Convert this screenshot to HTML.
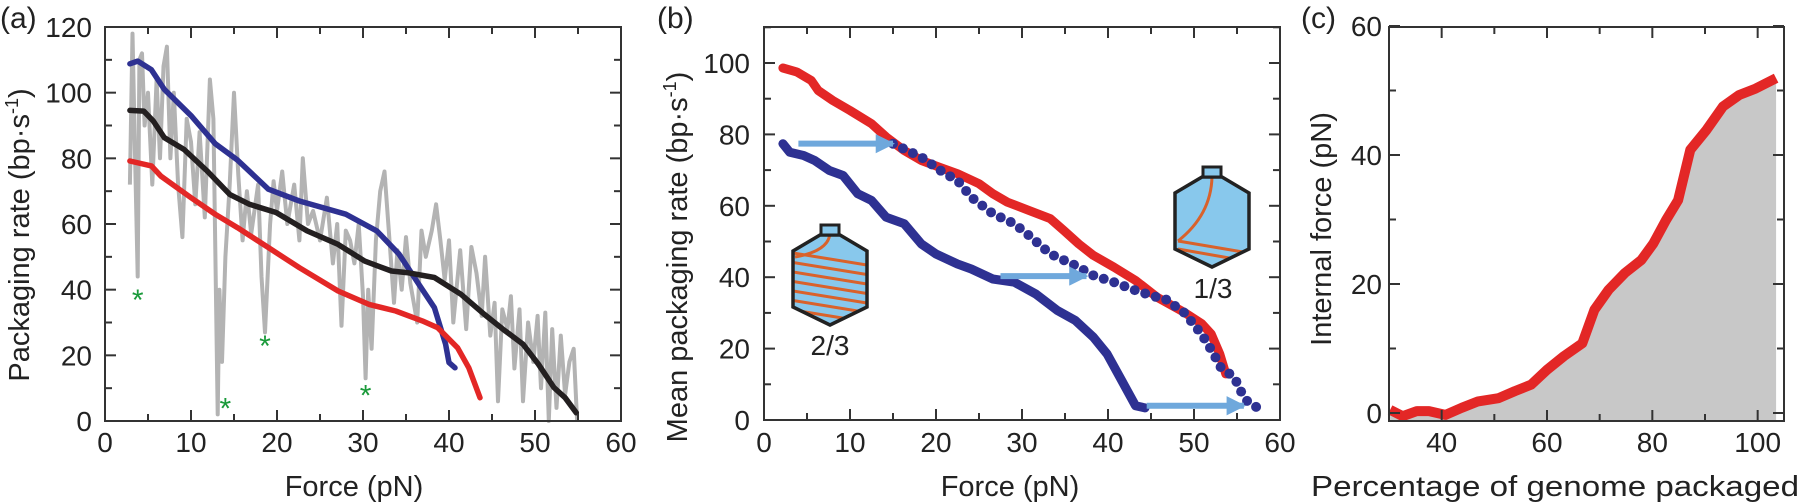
<!DOCTYPE html>
<html><head><meta charset="utf-8"><style>
html,body{margin:0;padding:0;background:#fff;}
svg{display:block;font-family:"Liberation Sans",Arial,sans-serif;}
</style></head><body>
<svg id="fig" width="1800" height="502" viewBox="0 0 1800 502">
<defs>
<marker id="ah" viewBox="0 0 10 10" refX="9" refY="5" markerWidth="3.2" markerHeight="3.2" orient="auto" markerUnits="strokeWidth"><path d="M0,0 L10,5 L0,10 z" fill="#6fa8dc"/></marker>
</defs>
<g id="pa"></g>
<g id="pb"></g>
<g id="pc"></g>
<text x="0" y="28" font-size="30" fill="#222">(a)</text>
<text x="657" y="28" font-size="30" fill="#222">(b)</text>
<text x="1301" y="28" font-size="30" fill="#222">(c)</text>
<text transform="translate(29,235) rotate(-90)" text-anchor="middle" font-size="29" fill="#222">Packaging rate (bp·s<tspan font-size="18" dy="-11">-1</tspan><tspan dy="11">)</tspan></text>
<text x="354" y="496" text-anchor="middle" font-size="29" fill="#222">Force (pN)</text>
<text transform="translate(687,257) rotate(-90)" text-anchor="middle" font-size="29" fill="#222">Mean packaging rate (bp·s<tspan font-size="18" dy="-11">-1</tspan><tspan dy="11">)</tspan></text>
<text x="1010" y="496" text-anchor="middle" font-size="29" fill="#222">Force (pN)</text>
<text transform="translate(1331,229) rotate(-90)" text-anchor="middle" font-size="29" fill="#222">Internal force (pN)</text>
<text x="1555" y="496" text-anchor="middle" font-size="29" textLength="488" lengthAdjust="spacingAndGlyphs" fill="#222">Percentage of genome packaged</text>
</svg>
<script>
// ---------- data ----------
const aGrayF=[2.9,3.2,3.5,3.8,4.0,4.3,4.6,5.0,5.5,6.0,6.4,6.8,7.2,7.6,8.0,8.5,9.0,9.5,10.0,10.5,11.0,11.6,12.2,12.6,13.1,13.3,13.6,14.0,14.5,15.0,15.5,16.0,16.5,17.0,17.8,18.2,18.6,19.2,19.6,20.0,20.6,21.2,22.0,22.6,23.0,23.6,24.2,25.0,25.8,26.5,27.0,27.5,28.0,28.5,29.0,29.5,30.0,30.3,30.6,31.0,31.5,32.0,32.5,33.0,33.6,34.0,34.5,35.0,35.5,36.3,36.8,37.3,38.0,38.5,39.0,39.5,40.0,40.5,41.3,42.0,42.6,43.2,43.8,44.2,44.8,45.3,45.7,46.2,46.8,47.2,47.6,48.2,48.6,49.2,49.8,50.3,50.7,51.2,51.6,52.0,52.5,53.0,53.5,54.0,54.5,54.9];
const aGrayV=[72,118,80,44,110,112,90,100,72,104,80,108,114,80,100,72,56,92,85,66,88,62,104,92,2,40,18,50,72,100,75,55,70,57,72,44,27,60,73,64,76,60,72,55,80,60,64,55,68,48,60,29,58,55,48,60,38,13,40,22,55,70,76,58,36,52,40,56,42,30,58,50,58,66,55,43,55,30,52,28,53,45,32,50,26,36,6,34,28,38,16,34,6,30,18,32,10,33,0,28,4,26,8,18,22,0];
const aBlueF=[2.9,3.8,5.4,6.9,10,12.8,15.4,19,22.6,28,31.6,34.2,36.5,38.3,39.6,40,40.7];
const aBlueV=[108.8,109.6,107,101,93,84.5,79.5,70.6,67,63,57.9,50.8,41.6,34.5,23.4,17.8,16.2];
const aBlackF=[2.9,4.5,5.6,6.9,9.2,11.9,14.5,16.8,19.9,23.5,27.1,30.2,33.3,35.1,38.3,41.4,44.1,46.3,48.6,50.4,52.2,53.5,54.8];
const aBlackV=[94.6,94.4,91.4,86.3,82.7,76.1,69,66,63.5,57.9,53.8,48.7,45.7,45.2,43.7,38.6,32.5,27.9,23.4,17.3,10.2,7.1,2.5];
const aRedF=[2.9,5.4,6.5,10,12.8,15.4,19,22.6,27.1,30.7,33.8,36.9,38.7,41,42.3,43.6];
const aRedV=[79.2,77.7,74.6,68,63,58.9,52.8,46.7,39.6,35.5,33.5,30.5,28.4,22.3,16.2,7.1];
const aStarF=[3.8,14,18.6,30.3];
const aStarV=[38,5,24,9];
const aXTicks=[0,10,20,30,40,50,60];
const aYTicks=[0,20,40,60,80,100,120];

const bRedF=[2.2,3.8,5.5,6.3,8,10,12.5,14.2,16.3,18.3,20.4,22.5,25,26.6,28.3,30.8,33.3,34.9,36.6,38.3,40.7,43.2,45.7,48.9,50.9,52,53,53.7];
const bRedV=[98.6,97.5,95.1,92.3,89.5,86.7,83,79.3,75.5,72.7,70.8,69,66.2,63.4,61,58.7,56.4,53,49.3,46.1,42.8,39.1,34.4,30.1,27,24.1,18.5,12.9];
const bBlueF=[2.2,3,4.6,5.9,7.6,9.2,10.9,12.5,14.2,16.3,18.3,20,22.5,24.1,26.6,29.1,31.6,34.1,36.2,38.3,39.9,41.6,43.2,44.3];
const bBlueV=[77.4,75,74.1,72.7,69.9,68.5,63.4,61.5,56.8,55,49.3,46.5,43.7,42.3,39.5,38.6,35.3,30.7,27.9,23.2,18.5,11,4,3.4];
const bDotF=[15,18.3,20.8,22.5,24.1,26.6,29.1,30.8,33.3,36.2,38.3,40.7,43.2,45.7,46.6,48.9,50.9,52.3,53,54.7,55.6,56.3,57.5];
const bDotV=[77.4,73.6,69.4,67.1,62.4,57.8,55,51.7,46.5,43.3,40.5,38.6,36.3,34.4,34,30,24,18.5,15,11.9,7.3,4.9,3.3];
const bArrowF0=[4,27.5,44.5];
const bArrowF1=[15,37.5,55.8];
const bArrowV=[77.4,40.3,4];
const bXTicks=[0,10,20,30,40,50,60];
const bYTicks=[0,20,40,60,80,100];

const cPctX=[30.2,32.6,35.3,37.6,40.7,43.8,46.9,50.8,53.9,57,60,63.2,66.7,69,71.7,74.8,77.9,80.2,82.6,84.9,87.2,90.3,93.4,96.5,99.6,103.5];
const cForceV=[0.5,-0.5,0.3,0.3,-0.3,0.8,1.8,2.3,3.4,4.4,6.7,8.8,10.8,16,19.1,21.7,23.7,26.3,29.9,33,40.8,43.9,47.5,49.3,50.3,51.9];
const cXTicks=[40,60,80,100];
const cYTicks=[0,20,40,60];

// ---------- helpers ----------
const NS="http://www.w3.org/2000/svg";
function mk(parent,tag,attrs){const e=document.createElementNS(NS,tag);for(const k in attrs)e.setAttribute(k,attrs[k]);parent.appendChild(e);return e;}
function lin(d0,d1,r0,r1){return v=>r0+(v-d0)*(r1-r0)/(d1-d0);}
function pathD(xs,ys,sx,sy){return xs.map((x,i)=>(i?'L':'M')+sx(x).toFixed(1)+','+sy(ys[i]).toFixed(1)).join(' ');}

function axes(g,L,R,T,B,sx,sy,xMinor,xMajor,yMinor,yMajor,xDom,yDom,xLabels,yLabels,yLabelX,pfx){
  const frame=mk(g,'rect',{x:L,y:T,width:R-L,height:B-T,fill:'none',stroke:'#333','stroke-width':2});
  
  
  for(let v=Math.ceil(xDom[0]/xMinor)*xMinor;v<=xDom[1]+1e-9;v+=xMinor){
    const major=Math.abs(v/xMajor-Math.round(v/xMajor))<1e-6, len=major?11:7, x=sx(v);
    const t1=mk(g,'line',{x1:x,x2:x,y1:B,y2:B-len,stroke:'#333','stroke-width':2});
    
    
    const t2=mk(g,'line',{x1:x,x2:x,y1:T,y2:T+len,stroke:'#333','stroke-width':2});
    
    
  }
  for(let v=Math.ceil(yDom[0]/yMinor)*yMinor;v<=yDom[1]+1e-9;v+=yMinor){
    const major=Math.abs(v/yMajor-Math.round(v/yMajor))<1e-6, len=major?11:7, y=sy(v);
    const t1=mk(g,'line',{x1:L,x2:L+len,y1:y,y2:y,stroke:'#333','stroke-width':2});
    
    
    const t2=mk(g,'line',{x1:R,x2:R-len,y1:y,y2:y,stroke:'#333','stroke-width':2});
    
    
  }
  xLabels.forEach(v=>{const t=mk(g,'text',{x:sx(v),y:452,'text-anchor':'middle','font-size':28,fill:'#222'});t.textContent=v;
    
    });
  yLabels.forEach(v=>{const t=mk(g,'text',{x:yLabelX,y:sy(v)+10,'text-anchor':'end','font-size':28,fill:'#222'});t.textContent=v;
    
    });
}

// ---------- panel a ----------
(function(){
  const g=document.getElementById('pa');
  const L=105,R=621,T=27,B=421;
  const sx=lin(0,60,L,R), sy=lin(0,120,B,T);
  const gv=aGrayV.map(v=>Math.max(0,Math.min(120,v)));
  const gr=mk(g,'path',{d:pathD(aGrayF,gv,sx,sy),fill:'none',stroke:'#b3b3b3','stroke-width':4,'stroke-linejoin':'round'});
  
  
  const bl=mk(g,'path',{d:pathD(aBlueF,aBlueV,sx,sy),fill:'none',stroke:'#2e3192','stroke-width':5.5,'stroke-linecap':'round','stroke-linejoin':'round'});
  
  
  const bk=mk(g,'path',{d:pathD(aBlackF,aBlackV,sx,sy),fill:'none',stroke:'#231f20','stroke-width':5.5,'stroke-linecap':'round','stroke-linejoin':'round'});
  
  
  const rd=mk(g,'path',{d:pathD(aRedF,aRedV,sx,sy),fill:'none',stroke:'#e32726','stroke-width':5.5,'stroke-linecap':'round','stroke-linejoin':'round'});
  
  
  aStarF.forEach((f,i)=>{const t=mk(g,'text',{x:sx(f),y:sy(aStarV[i])+14,'text-anchor':'middle','font-size':30,fill:'#1a9a3a'});t.textContent='*';
    
    });
  axes(g,L,R,T,B,sx,sy,5,10,10,20,[0,60],[0,120],aXTicks,aYTicks,92,'panel-a');
})();

// ---------- panel b ----------
(function(){
  const g=document.getElementById('pb');
  const L=764,R=1280,T=27,B=420;
  const sx=lin(0,60,L,R), sy=lin(0,100,B,B-357);
  // capsid icons
  function capsid(x,y,s,stripes,name){
    const c=mk(g,'g',{transform:`translate(${x},${y}) scale(${s})`});
    
    
    const cl=mk(c,'clipPath',{id:name+'-clip'});
    const pts='27,12 47,12 74,28 74,84 37,102 0,84 0,28';
    mk(cl,'polygon',{points:pts});
    mk(c,'polygon',{points:pts,fill:'#88c8ec',stroke:'none'});
    const inner=mk(c,'g',{'clip-path':`url(#${name}-clip)`});
    stripes.forEach(d=>mk(inner,'path',{d:d,fill:'none',stroke:'#d9622b','stroke-width':3}));
    mk(c,'polygon',{points:pts,fill:'none',stroke:'#222','stroke-width':3.5,'stroke-linejoin':'miter'});
    mk(c,'rect',{x:28,y:2,width:18,height:10,fill:'#88c8ec',stroke:'#222','stroke-width':3});
  }
  const s23=['M37,0 L37,10 Q36,28 2,34'];
  for(let i=0;i<7;i++){const y0=30+i*9.5;s23.push(`M0,${y0} L74,${y0+12}`);}
  capsid(793,223,1,s23,'capsid-icon-two-thirds');
  capsid(1175,165,1,['M37,0 L37,12 Q36,50 3,76','M3,76 L74,88','M3,84 L60,94'],'capsid-icon-one-third');
  const t1=mk(g,'text',{x:830,y:355,'text-anchor':'middle','font-size':28,fill:'#222'});t1.textContent='2/3';
  
  
  const t2=mk(g,'text',{x:1213,y:298,'text-anchor':'middle','font-size':28,fill:'#222'});t2.textContent='1/3';
  
  
  const rd=mk(g,'path',{d:pathD(bRedF,bRedV,sx,sy),fill:'none',stroke:'#e32726','stroke-width':9,'stroke-linecap':'round','stroke-linejoin':'round'});
  
  
  const bl=mk(g,'path',{d:pathD(bBlueF,bBlueV,sx,sy),fill:'none',stroke:'#2e3192','stroke-width':9,'stroke-linecap':'round','stroke-linejoin':'round'});
  
  
  const tmp=mk(g,'path',{d:pathD(bDotF,bDotV,sx,sy),fill:'none',stroke:'none'});
  const len=tmp.getTotalLength();
  for(let d=0;d<=len;d+=11){const p=tmp.getPointAtLength(d);
    const c=mk(g,'circle',{cx:p.x,cy:p.y,r:5,fill:'#2e3192'});
    
    }
  tmp.remove();
  bArrowF0.forEach((f,i)=>{const a=mk(g,'line',{x1:sx(f),x2:sx(bArrowF1[i]),y1:sy(bArrowV[i]),y2:sy(bArrowV[i]),stroke:'#6fa8dc','stroke-width':6,'marker-end':'url(#ah)'});
    
    });
  axes(g,L,R,T,B,sx,sy,5,10,10,20,[0,60],[0,110],bXTicks,bYTicks,750,'panel-b');
})();

// ---------- panel c ----------
(function(){
  const g=document.getElementById('pc');
  const L=1389,R=1784,T=27,B=421;
  const sx=lin(30,105,L,R), sy=lin(0,60,413,26);
  const n=cPctX.length;
  let d=pathD(cPctX,cForceV,sx,sy)+` L${sx(cPctX[n-1]).toFixed(1)},${B} L${sx(cPctX[0]).toFixed(1)},${B} Z`;
  const ar=mk(g,'path',{d:d,fill:'#c8c8c8',stroke:'none'});
  
  
  const ln=mk(g,'path',{d:pathD(cPctX,cForceV,sx,sy),fill:'none',stroke:'#e32726','stroke-width':10,'stroke-linejoin':'round'});
  
  
  axes(g,L,R,T,B,sx,sy,10,20,10,20,[30,105],[-1,60],cXTicks,cYTicks,1382,'panel-c');
})();
</script>
</body></html>
